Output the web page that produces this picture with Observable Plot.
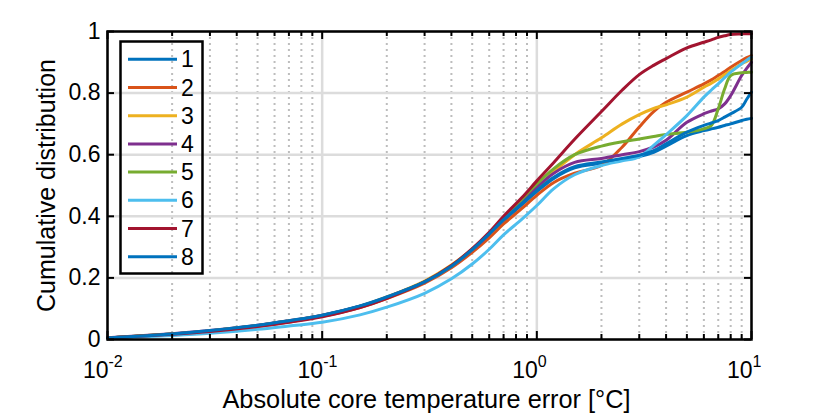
<!DOCTYPE html>
<html>
<head>
<meta charset="utf-8">
<script src="https://cdn.jsdelivr.net/npm/d3@7"></script>
<script src="https://cdn.jsdelivr.net/npm/@observablehq/plot@0.6"></script>
<style>
  html, body { margin: 0; padding: 0; background: white; }
  #chart { position: relative; width: 830px; height: 415px; }
</style>
</head>
<body>
<div id="chart"></div>
<script>
// ---- data ----
const seriesNames = ["1", "2", "3", "4", "5", "6", "7", "8"];
const seriesColors = ["#0072BD", "#D95319", "#EDB120", "#7E2F8E", "#77AC30", "#4DBEEE", "#A2142F", "#0072BD"];

const xs = [0.01, 0.02, 0.03, 0.05, 0.07, 0.1, 0.15, 0.2, 0.3, 0.4, 0.5, 0.6, 0.7, 0.85, 1, 1.2, 1.5, 2, 2.5, 3, 3.5, 4, 5, 6, 6.5, 7, 7.5, 8, 9, 9.5, 10];

const s1 = [0.005, 0.018, 0.028, 0.045, 0.060, 0.078, 0.108, 0.137, 0.186, 0.237, 0.290, 0.340, 0.385, 0.437, 0.480, 0.523, 0.557, 0.572, 0.584, 0.594, 0.608, 0.628, 0.662, 0.678, 0.684, 0.689, 0.695, 0.700, 0.711, 0.715, 0.718];
const s2 = [0.005, 0.017, 0.027, 0.043, 0.057, 0.075, 0.104, 0.133, 0.183, 0.233, 0.283, 0.330, 0.375, 0.425, 0.468, 0.510, 0.540, 0.565, 0.625, 0.690, 0.740, 0.770, 0.803, 0.830, 0.843, 0.857, 0.870, 0.884, 0.906, 0.915, 0.922];
const s3 = [0.005, 0.018, 0.028, 0.045, 0.060, 0.078, 0.108, 0.138, 0.190, 0.242, 0.293, 0.342, 0.390, 0.445, 0.490, 0.545, 0.600, 0.655, 0.700, 0.730, 0.750, 0.762, 0.787, 0.819, 0.832, 0.846, 0.860, 0.873, 0.895, 0.903, 0.911];
const s4 = [0.006, 0.019, 0.029, 0.046, 0.061, 0.079, 0.108, 0.137, 0.186, 0.237, 0.290, 0.342, 0.390, 0.448, 0.495, 0.540, 0.575, 0.588, 0.600, 0.610, 0.625, 0.647, 0.705, 0.733, 0.742, 0.749, 0.765, 0.792, 0.857, 0.880, 0.900];
const s5 = [0.005, 0.018, 0.028, 0.045, 0.060, 0.078, 0.107, 0.136, 0.187, 0.238, 0.292, 0.345, 0.395, 0.455, 0.505, 0.555, 0.600, 0.628, 0.642, 0.651, 0.659, 0.666, 0.673, 0.684, 0.695, 0.749, 0.814, 0.857, 0.866, 0.867, 0.868];
const s6 = [0.004, 0.013, 0.020, 0.033, 0.044, 0.056, 0.080, 0.105, 0.150, 0.197, 0.245, 0.293, 0.340, 0.390, 0.435, 0.490, 0.535, 0.565, 0.580, 0.593, 0.630, 0.665, 0.727, 0.787, 0.810, 0.830, 0.850, 0.868, 0.895, 0.907, 0.917];
const s7 = [0.005, 0.017, 0.026, 0.042, 0.056, 0.074, 0.104, 0.134, 0.187, 0.240, 0.295, 0.348, 0.400, 0.460, 0.515, 0.575, 0.650, 0.740, 0.810, 0.860, 0.890, 0.912, 0.947, 0.965, 0.973, 0.981, 0.986, 0.990, 0.992, 0.993, 0.993];
const s8 = [0.005, 0.018, 0.029, 0.046, 0.061, 0.079, 0.109, 0.138, 0.187, 0.238, 0.292, 0.343, 0.389, 0.441, 0.484, 0.527, 0.561, 0.576, 0.588, 0.598, 0.613, 0.635, 0.673, 0.695, 0.703, 0.711, 0.722, 0.733, 0.754, 0.780, 0.803];

const xMajor = [0.01, 0.1, 1, 10];
const xExponents = ["-2", "-1", "0", "1"];
const xMinor = [0.02, 0.03, 0.04, 0.05, 0.06, 0.07, 0.08, 0.09, 0.2, 0.3, 0.4, 0.5, 0.6, 0.7, 0.8, 0.9, 2, 3, 4, 5, 6, 7, 8, 9];
const yTicks = [0, 0.2, 0.4, 0.6, 0.8, 1];
const yTickLabels = ["0", "0.2", "0.4", "0.6", "0.8", "1"];
const xLabel = "Absolute core temperature error [°C]";
const yLabel = "Cumulative distribution";

// ---- build table ----
const allSeries = [s1, s2, s3, s4, s5, s6, s7, s8];
const rows = [];
allSeries.forEach((vals, k) => vals.forEach((v, i) => rows.push({x: xs[i], y: v, s: seriesNames[k]})));

const W = 830, H = 415, mL = 107, mR = 79, mT = 31, mB = 76;
const pW = W - mL - mR, pH = H - mT - mB;
const font = "'Liberation Sans', Arial, Helvetica, sans-serif";

const chart = Plot.plot({
  width: W, height: H,
  marginLeft: mL, marginRight: mR, marginTop: mT, marginBottom: mB,
  style: {fontFamily: font, background: "white", overflow: "visible"},
  x: {type: "log", domain: [0.01, 10], axis: null},
  y: {domain: [0, 1], axis: null},
  color: {domain: seriesNames, range: seriesColors},
  marks: [
    // grid
    Plot.ruleX(xMinor, {x: d => d, stroke: "#bdbdbd", strokeWidth: 2, strokeDasharray: "2,4"}),
    Plot.ruleX(xMajor, {x: d => d, stroke: "#dcdcdc", strokeWidth: 2.5}),
    Plot.ruleY(yTicks, {y: d => d, stroke: "#dcdcdc", strokeWidth: 2.5}),
    // data
    Plot.line(rows, {x: "x", y: "y", z: "s", stroke: "s", strokeWidth: 3, curve: "catmull-rom"}),
    // box
    Plot.frame({stroke: "black", strokeWidth: 2.5}),
    // inward ticks
    Plot.tickX(xMajor, {x: d => d, stroke: "black", strokeWidth: 2, insetTop: pH - 8}),
    Plot.tickX(xMajor, {x: d => d, stroke: "black", strokeWidth: 2, insetBottom: pH - 8}),
    Plot.tickX(xMinor, {x: d => d, stroke: "black", strokeWidth: 2, insetTop: pH - 5}),
    Plot.tickX(xMinor, {x: d => d, stroke: "black", strokeWidth: 2, insetBottom: pH - 5}),
    Plot.tickY(yTicks, {y: d => d, stroke: "black", strokeWidth: 2, insetRight: pW - 7}),
    Plot.tickY(yTicks, {y: d => d, stroke: "black", strokeWidth: 2, insetLeft: pW - 7}),
    // tick labels
    Plot.text(yTicks, {y: d => d, frameAnchor: "left", text: (d, i) => yTickLabels[i], textAnchor: "end", dx: -7, fontSize: 23, fill: "black"}),
    Plot.text(xMajor, {x: d => d, frameAnchor: "bottom", text: () => "10", textAnchor: "end", lineAnchor: "bottom", dx: 1, dy: 38, fontSize: 23, fill: "black"}),
    Plot.text(xMajor, {x: d => d, frameAnchor: "bottom", text: (d, i) => xExponents[i], textAnchor: "start", lineAnchor: "bottom", dx: 1, dy: 27, fontSize: 16, fill: "black"}),
    // axis labels
    Plot.text([xLabel], {frameAnchor: "bottom", text: d => d, textAnchor: "middle", lineAnchor: "bottom", dx: -3, dy: 68, fontSize: 25.3, fill: "black"}),
    Plot.text([yLabel], {frameAnchor: "left", text: d => d, rotate: -90, textAnchor: "middle", lineAnchor: "bottom", dx: -53, fontSize: 25, fill: "black"})
  ]
});

document.getElementById("chart").appendChild(chart);

// ---- legend (inside the axes, top-left) ----
const svg = d3.select(chart);
const lg = svg.append("g").attr("class", "legend").attr("text-anchor", "start");
const lgX = 120.5, lgY = 41.5, lgW = 82, lgH = 232, rowStep = 28.2, firstRow = 59.3;
lg.append("rect").attr("x", lgX).attr("y", lgY).attr("width", lgW).attr("height", lgH)
  .attr("fill", "none").attr("stroke", "black").attr("stroke-width", 2.5);
seriesNames.forEach((name, i) => {
  const cy = firstRow + i * rowStep;
  lg.append("line").attr("x1", 128).attr("x2", 177).attr("y1", cy).attr("y2", cy)
    .attr("stroke", seriesColors[i]).attr("stroke-width", 3);
  lg.append("text").attr("x", 181).attr("y", cy).attr("dy", "0.35em").attr("text-anchor", "start")
    .attr("font-size", 23).attr("font-family", font).attr("fill", "black").text(name);
});
</script>
</body>
</html>
